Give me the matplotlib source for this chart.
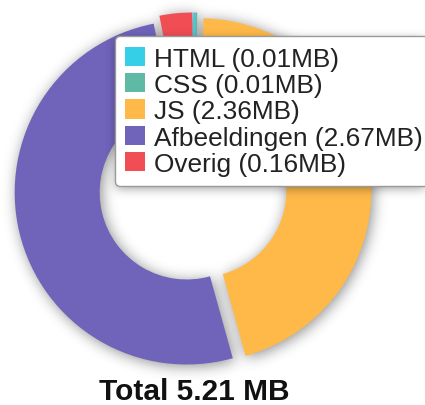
import numpy as np
import matplotlib
matplotlib.use("Agg")
import matplotlib.pyplot as plt
from matplotlib.patches import Patch

# page weight per resource type, in MB
labels = ["HTML", "CSS", "JS", "Afbeeldingen", "Overig"]
sizes = [0.01, 0.01, 2.36, 2.67, 0.16]
colors = ["#36CFE8", "#5EBAA5", "#FFB948", "#6F63BA", "#F04D54"]
total = 5.21

W, H = 425, 406
plt.rcParams["font.family"] = ["Liberation Sans", "DejaVu Sans"]

fig = plt.figure(figsize=(W / 100, H / 100), dpi=100)
ax = fig.add_axes([0, 0, 1, 1])

R = 172
# explode is in data units here (1 unit = 1 px)
wedges, _ = ax.pie(sizes, colors=colors, startangle=90, counterclock=False,
                   radius=R, center=(193, H - 192), explode=[6.5] * 5,
                   wedgeprops=dict(width=85, linewidth=0))
ax.set_xlim(0, W)
ax.set_ylim(0, H)
ax.set_aspect("equal")
ax.axis("off")


def blur(img, sigma):
    k = np.arange(-3 * sigma, 3 * sigma + 1)
    g = np.exp(-k ** 2 / (2 * sigma ** 2))
    g /= g.sum()
    img = np.apply_along_axis(lambda r: np.convolve(r, g, mode="same"), 1, img)
    return np.apply_along_axis(lambda c: np.convolve(c, g, mode="same"), 0, img)


def shadow(mask, alpha, z, sigma=7):
    soft = blur(mask.astype(float), sigma)
    rgba = np.zeros((H, W, 4))
    rgba[..., 3] = np.clip(soft, 0, 1) * alpha
    ax.imshow(rgba, extent=(0, W, 0, H), origin="upper", zorder=z,
              interpolation="bilinear")


# soft drop shadow under the donut
xx, yy = np.meshgrid(np.arange(W) + 0.5, H - (np.arange(H) + 0.5))
pts = np.column_stack([xx.ravel() - 2, yy.ravel() + 2])
mask = np.zeros(xx.size, bool)
for w in wedges:
    mask |= w.get_path().contains_points(pts)
shadow(mask.reshape(H, W), 0.45, 0)

handles = [Patch(facecolor=c, edgecolor="none") for c in colors]
names = [f"{n} ({s:.2f}MB)" for n, s in zip(labels, sizes)]
leg = ax.legend(handles, names, loc="upper left",
                bbox_to_anchor=(115 / W, 1 - 37 / H), bbox_transform=fig.transFigure,
                borderaxespad=0, fontsize=18.9, handlelength=0.75, handleheight=0.75,
                handletextpad=0.35, labelspacing=0.09, borderpad=0.4,
                frameon=True, fancybox=True, framealpha=1, edgecolor="#9a9a9a")
leg.get_frame().set_linewidth(1.0)
for t in leg.get_texts():
    t.set_color("#222222")

# shadow under the legend box
fig.canvas.draw()
bb = leg.get_frame().get_window_extent()
lx = (xx >= bb.x0 + 1) & (xx <= bb.x1 + 1) & (yy >= bb.y0 - 3) & (yy <= bb.y1 - 3)
shadow(lx, 0.35, 4, sigma=5)

fig.text(194.5 / W, 6 / H, f"Total {total:.2f} MB", ha="center", va="baseline",
         fontsize=21.5, fontweight="bold", color="#111111")

fig.savefig("out.png", dpi=100)
